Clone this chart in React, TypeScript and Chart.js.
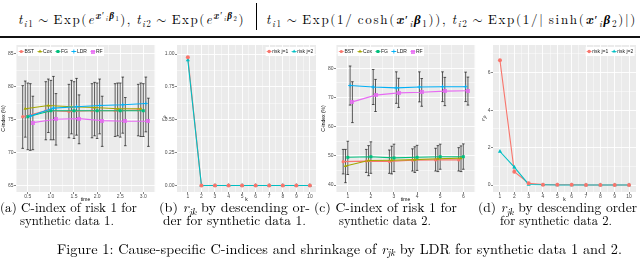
import React, { useEffect, useLayoutEffect, useRef } from 'react';
import { Chart, registerables } from 'chart.js';
import { drawPoint } from 'chart.js/helpers';

Chart.register(...registerables);

const SANS = '"Liberation Sans", Arial, Helvetica, sans-serif';
const SERIF = '"Latin Modern Roman", "Liberation Serif", "Times New Roman", serif';

// ---------- shared ----------
const METHODS = ['BST', 'Cox', 'FG', 'LDR', 'RF'];
const METHOD_COLORS = ['#F8766D', '#A3A500', '#00BF7D', '#00B0F6', '#E76BF3'];

// ---------- panel (a): synthetic data 1 ----------
const A_TIMES = [0.5, 1, 1.5, 2, 2.5, 3];
const A_BST = [75.5, 76.4, 76.3, 76.4, 76.4, 76.5];
const A_BST_LO = [70.7, 72.0, 72.3, 72.3, 72.5, 72.6];
const A_BST_HI = [80.2, 80.8, 80.4, 80.5, 80.5, 80.4];
const A_COX = [76.7, 77.2, 77.0, 76.9, 76.7, 76.7];
const A_COX_LO = [72.4, 73.1, 72.9, 72.6, 72.6, 72.5];
const A_COX_HI = [80.9, 81.2, 81.0, 80.7, 80.6, 80.6];
const A_FG = [75.5, 76.4, 76.4, 76.4, 76.4, 76.4];
const A_FG_LO = [70.5, 72.0, 72.2, 72.2, 72.4, 72.5];
const A_FG_HI = [80.6, 81.0, 80.8, 80.6, 80.6, 80.5];
const A_LDR = [75.6, 76.8, 77.0, 77.2, 77.3, 77.5];
const A_LDR_LO = [70.4, 72.0, 72.7, 72.9, 73.0, 73.2];
const A_LDR_HI = [80.5, 81.6, 81.3, 81.2, 81.5, 81.5];
const A_RF = [74.6, 75.1, 75.2, 74.9, 74.8, 74.8];
const A_RF_LO = [70.5, 71.2, 71.4, 71.0, 71.1, 71.0];
const A_RF_HI = [78.6, 79.0, 78.8, 78.6, 78.4, 78.3];
const A_X_TICKS = [0.5, 1, 1.5, 2, 2.5, 3];
const A_X_MINOR = [0.25, 0.75, 1.25, 1.75, 2.25, 2.75, 3.25];
const A_Y_TICKS = [65, 70, 75, 80, 85];
const A_Y_MINOR = [62.5, 67.5, 72.5, 77.5, 82.5, 87.5];

// ---------- panel (c): synthetic data 2 ----------
const C_TIMES = [1, 2, 3, 4, 5, 6];
const C_BST = [48.0, 48.2, 48.1, 48.5, 48.6, 48.6];
const C_BST_LO = [43.8, 44.3, 44.0, 44.8, 44.8, 44.8];
const C_BST_HI = [52.2, 52.2, 52.0, 52.4, 52.6, 52.8];
const C_COX = [46.5, 48.4, 48.5, 48.7, 49.0, 49.2];
const C_COX_LO = [40.8, 43.2, 43.8, 44.3, 44.6, 44.6];
const C_COX_HI = [52.2, 53.5, 53.3, 53.1, 53.5, 53.4];
const C_FG = [49.5, 49.7, 49.3, 49.5, 49.7, 49.7];
const C_FG_LO = [43.6, 44.0, 44.6, 45.0, 45.4, 45.4];
const C_FG_HI = [55.0, 54.8, 54.0, 53.6, 54.0, 54.1];
const C_LDR = [74.1, 73.6, 73.3, 73.6, 73.7, 73.7];
const C_LDR_LO = [67.4, 67.6, 68.0, 68.5, 68.6, 68.6];
const C_LDR_HI = [80.8, 79.6, 78.8, 78.8, 78.8, 78.7];
const C_RF = [68.5, 70.8, 71.6, 71.8, 72.2, 72.3];
const C_RF_LO = [61.4, 65.2, 66.6, 67.0, 67.2, 67.4];
const C_RF_HI = [75.4, 76.2, 76.6, 76.5, 76.9, 77.0];
const C_X_TICKS = [1, 2, 3, 4, 5, 6];
const C_X_MINOR = [0.5, 1.5, 2.5, 3.5, 4.5, 5.5, 6.5];
const C_Y_TICKS = [40, 50, 60, 70, 80];
const C_Y_MINOR = [35, 45, 55, 65, 75, 85];

// ---------- panels (b), (d): r_jk by descending order ----------
const K_VALUES = [1, 2, 3, 4, 5, 6, 7, 8, 9, 10];
const K_MINOR = [0.5, 1.5, 2.5, 3.5, 4.5, 5.5, 6.5, 7.5, 8.5, 9.5, 10.5];
const RISK_LABELS = ['risk j=1', 'risk j=2'];
const RISK_COLORS = ['#F8766D', '#00BFC4'];
const B_J1 = [0.975, 0, 0, 0, 0, 0, 0, 0, 0, 0];
const B_J2 = [0.954, 0, 0, 0, 0, 0, 0, 0, 0, 0];
const B_Y_TICKS = [0, 0.25, 0.5, 0.75, 1];
const B_Y_MINOR = [-0.125, 0.125, 0.375, 0.625, 0.875, 1.125];
const D_J1 = [6.66, 0.71, 0.09, 0.02, 0.01, 0.01, 0, 0, 0, 0];
const D_J2 = [1.79, 0.95, 0.03, 0.01, 0, 0, 0, 0, 0, 0];
const D_Y_TICKS = [0, 2, 4, 6];
const D_Y_MINOR = [-1, 1, 3, 5, 7];

// ---------- helpers ----------
function boxX(color: string) {
  const c = document.createElement('canvas');
  c.width = 4;
  c.height = 4;
  const g = c.getContext('2d')!;
  g.strokeStyle = color;
  g.lineWidth = 0.8;
  g.strokeRect(0.5, 0.5, 3, 3);
  g.beginPath();
  g.moveTo(0.5, 0.5);
  g.lineTo(3.5, 3.5);
  g.moveTo(3.5, 0.5);
  g.lineTo(0.5, 3.5);
  g.stroke();
  return c;
}

const panelBg = {
  id: 'panelBg',
  beforeDraw(chart: any) {
    const { ctx, chartArea: a } = chart;
    ctx.save();
    ctx.fillStyle = '#EBEBEB';
    ctx.fillRect(a.left, a.top, a.right - a.left, a.bottom - a.top);
    ctx.restore();
  },
};

function makeErrorBars(bars: { x: number; lo: number; hi: number }[]) {
  return {
    id: 'errBars',
    beforeDatasetsDraw(chart: any) {
      const { ctx, chartArea: a } = chart;
      const xs = chart.scales.x;
      const ys = chart.scales.y;
      ctx.save();
      ctx.beginPath();
      ctx.rect(a.left, a.top, a.right - a.left, a.bottom - a.top);
      ctx.clip();
      ctx.strokeStyle = 'rgba(20,20,20,0.9)';
      ctx.lineWidth = 0.75;
      const cap = 1.3;
      for (const b of bars) {
        const px = xs.getPixelForValue(b.x);
        const p1 = ys.getPixelForValue(b.lo);
        const p2 = ys.getPixelForValue(b.hi);
        ctx.beginPath();
        ctx.moveTo(px, p1);
        ctx.lineTo(px, p2);
        ctx.moveTo(px - cap, p1);
        ctx.lineTo(px + cap, p1);
        ctx.moveTo(px - cap, p2);
        ctx.lineTo(px + cap, p2);
        ctx.stroke();
      }
      ctx.restore();
    },
  };
}

type LegItem = { label: string; color: string; style: any; radius: number; border: number };

function makeLegend(items: LegItem[], side: 'left' | 'right') {
  return {
    id: 'ggLegend',
    afterDatasetsDraw(chart: any) {
      const { ctx, chartArea: a } = chart;
      ctx.save();
      ctx.font = `5px ${SANS}`;
      const KEY = 5, GAP_T = 0.6, GAP_I = 3.4, PAD_L = 1, PAD_R = 1.4, H = 9;
      const widths = items.map((it) => ctx.measureText(it.label).width);
      let total = PAD_L + PAD_R;
      items.forEach((_, k) => {
        total += KEY + GAP_T + widths[k] + (k < items.length - 1 ? GAP_I : 0);
      });
      const x0 = side === 'left' ? a.left + 1.8 : a.right - 1.4 - total;
      const y0 = a.top + 2;
      ctx.fillStyle = '#FFFFFF';
      ctx.fillRect(x0, y0, total, H);
      let x = x0 + PAD_L;
      const cy = y0 + H / 2;
      items.forEach((it, k) => {
        ctx.strokeStyle = it.color;
        ctx.lineWidth = 0.8;
        ctx.beginPath();
        ctx.moveTo(x, cy);
        ctx.lineTo(x + KEY, cy);
        ctx.stroke();
        ctx.fillStyle = it.color;
        ctx.lineWidth = it.border;
        drawPoint(ctx, { pointStyle: it.style, radius: it.radius, borderWidth: it.border, rotation: 0 } as any, x + KEY / 2, cy);
        x += KEY + GAP_T;
        ctx.fillStyle = '#1A1A1A';
        ctx.textBaseline = 'middle';
        ctx.textAlign = 'left';
        ctx.fillText(it.label, x, cy + 0.3);
        x += widths[k] + GAP_I;
      });
      ctx.restore();
    },
  };
}

function makeRjkTitle(x: number) {
  return {
    id: 'rjkTitle',
    afterDraw(chart: any) {
      const { ctx, chartArea: a } = chart;
      ctx.save();
      ctx.translate(x, (a.top + a.bottom) / 2);
      ctx.rotate(-Math.PI / 2);
      ctx.fillStyle = '#000';
      ctx.textBaseline = 'middle';
      ctx.textAlign = 'left';
      ctx.font = `italic 5.5px ${SERIF}`;
      const w1 = ctx.measureText('r').width;
      ctx.font = `italic 4px ${SERIF}`;
      const w2 = ctx.measureText('jk').width;
      const start = -(w1 + w2) / 2;
      ctx.font = `italic 5.5px ${SERIF}`;
      ctx.fillText('r', start, 0);
      ctx.font = `italic 4px ${SERIF}`;
      ctx.fillText('jk', start + w1 + 0.2, 1.3);
      ctx.restore();
    },
  };
}

function axis(o: {
  horizontal: boolean; min: number; max: number; major: number[]; minor: number[];
  fmt: (v: number) => string; title: string | null; size: number;
}) {
  const isMajor = (v: any) => typeof v === 'number' && o.major.some((m) => Math.abs(m - v) < 1e-9);
  const all = [...o.major, ...o.minor].filter((v) => v >= o.min && v <= o.max).sort((p, q) => p - q);
  return {
    type: 'linear',
    min: o.min,
    max: o.max,
    afterBuildTicks: (s: any) => {
      s.ticks = all.map((v) => ({ value: v }));
    },
    afterFit: (s: any) => {
      if (o.horizontal) s.height = o.size;
      else s.width = o.size;
    },
    border: { display: false },
    grid: {
      color: '#FFFFFF',
      lineWidth: (c: any) => (isMajor(c.tick && c.tick.value) ? 0.9 : 0.45),
      tickColor: (c: any) => (isMajor(c.tick && c.tick.value) ? '#333333' : 'rgba(0,0,0,0)'),
      tickLength: 2,
      tickWidth: 0.6,
      drawTicks: true,
    },
    ticks: {
      autoSkip: false,
      maxRotation: 0,
      minRotation: 0,
      padding: o.horizontal ? 0 : 0.5,
      color: '#4D4D4D',
      font: { family: SANS, size: 5, lineHeight: 1 },
      callback: (v: any) => (isMajor(v) ? o.fmt(v) : ''),
    },
    title: {
      display: !!o.title,
      text: o.title || '',
      color: '#000000',
      font: { family: SANS, size: 5, lineHeight: 1 },
      padding: { top: 1.5, bottom: 0.5 },
    },
  };
}

function baseOptions(padRight: number, scales: any) {
  return {
    responsive: false,
    animation: false,
    devicePixelRatio: 1,
    events: [],
    layout: { padding: { top: 5, right: padRight, left: 0, bottom: 0 } },
    plugins: { legend: { display: false }, tooltip: { enabled: false } },
    elements: { line: { tension: 0 } },
    scales,
  };
}

function buildCIndex(p: {
  times: number[]; means: number[][]; los: number[][]; his: number[][]; dodge: number;
  xMin: number; xMax: number; yMin: number; yMax: number;
  xMajor: number[]; xMinor: number[]; yMajor: number[]; yMinor: number[];
  xFmt: (v: number) => string; yWidth: number; padRight: number;
}) {
  const styles: any[] = ['circle', 'triangle', 'rect', 'cross', boxX(METHOD_COLORS[4])];
  const radii = [1.6, 2.0, 2.1, 2.0, 2];
  const borders = [0, 0, 0, 0.9, 0];
  const bars: { x: number; lo: number; hi: number }[] = [];
  const datasets = METHODS.map((m, i) => {
    const off = (i - 2) * p.dodge;
    p.times.forEach((t, j) => bars.push({ x: t + off, lo: p.los[i][j], hi: p.his[i][j] }));
    return {
      label: m,
      data: p.times.map((t, j) => ({ x: t + off, y: p.means[i][j] })),
      borderColor: METHOD_COLORS[i],
      backgroundColor: METHOD_COLORS[i],
      borderWidth: 1.1,
      pointStyle: styles[i],
      pointRadius: radii[i],
      pointBorderWidth: borders[i],
      pointBackgroundColor: METHOD_COLORS[i],
      pointBorderColor: METHOD_COLORS[i],
      order: METHODS.length - 1 - i,
    };
  });
  const legendItems: LegItem[] = METHODS.map((m, i) => ({
    label: m, color: METHOD_COLORS[i], style: styles[i], radius: radii[i], border: borders[i],
  }));
  return {
    type: 'line',
    data: { datasets },
    options: baseOptions(p.padRight, {
      x: axis({ horizontal: true, min: p.xMin, max: p.xMax, major: p.xMajor, minor: p.xMinor, fmt: p.xFmt, title: 'time', size: 11 }),
      y: axis({ horizontal: false, min: p.yMin, max: p.yMax, major: p.yMajor, minor: p.yMinor, fmt: (v) => String(v), title: 'C-index (%)', size: p.yWidth }),
    }),
    plugins: [panelBg, makeErrorBars(bars), makeLegend(legendItems, 'left')],
  };
}

function buildRjk(p: {
  j1: number[]; j2: number[]; yMin: number; yMax: number; yMajor: number[]; yMinor: number[];
  yFmt: (v: number) => string; xMin: number; xMax: number; yWidth: number; padRight: number; titleX: number;
}) {
  const pts = (v: number[]) => K_VALUES.map((k, i) => ({ x: k, y: v[i] }));
  const datasets = [
    { label: 'line1', data: pts(p.j1), borderColor: RISK_COLORS[0], borderWidth: 1.1, pointRadius: 0, order: 3 },
    { label: 'line2', data: pts(p.j2), borderColor: RISK_COLORS[1], borderWidth: 1.1, pointRadius: 0, order: 2 },
    {
      label: RISK_LABELS[1], data: pts(p.j2), showLine: false, pointStyle: 'triangle', pointRadius: 2.4,
      pointBackgroundColor: RISK_COLORS[1], pointBorderColor: RISK_COLORS[1], pointBorderWidth: 0, order: 1,
    },
    {
      label: RISK_LABELS[0], data: pts(p.j1), showLine: false, pointStyle: 'circle', pointRadius: 2.0,
      pointBackgroundColor: RISK_COLORS[0], pointBorderColor: RISK_COLORS[0], pointBorderWidth: 0, order: 0,
    },
  ];
  const legendItems: LegItem[] = [
    { label: RISK_LABELS[0], color: RISK_COLORS[0], style: 'circle', radius: 1.7, border: 0 },
    { label: RISK_LABELS[1], color: RISK_COLORS[1], style: 'triangle', radius: 2.0, border: 0 },
  ];
  return {
    type: 'line',
    data: { datasets },
    options: baseOptions(p.padRight, {
      x: axis({ horizontal: true, min: p.xMin, max: p.xMax, major: K_VALUES, minor: K_MINOR, fmt: (v) => String(v), title: 'k', size: 11 }),
      y: axis({ horizontal: false, min: p.yMin, max: p.yMax, major: p.yMajor, minor: p.yMinor, fmt: p.yFmt, title: null, size: p.yWidth }),
    }),
    plugins: [panelBg, makeLegend(legendItems, 'right'), makeRjkTitle(p.titleX)],
  };
}

const buildA = () =>
  buildCIndex({
    times: A_TIMES,
    means: [A_BST, A_COX, A_FG, A_LDR, A_RF],
    los: [A_BST_LO, A_COX_LO, A_FG_LO, A_LDR_LO, A_RF_LO],
    his: [A_BST_HI, A_COX_HI, A_FG_HI, A_LDR_HI, A_RF_HI],
    dodge: 0.055,
    xMin: 0.245, xMax: 3.255, yMin: 64.09, yMax: 86.36,
    xMajor: A_X_TICKS, xMinor: A_X_MINOR, yMajor: A_Y_TICKS, yMinor: A_Y_MINOR,
    xFmt: (v) => v.toFixed(1), yWidth: 16, padRight: 3,
  });

const buildC = () =>
  buildCIndex({
    times: C_TIMES,
    means: [C_BST, C_COX, C_FG, C_LDR, C_RF],
    los: [C_BST_LO, C_COX_LO, C_FG_LO, C_LDR_LO, C_RF_LO],
    his: [C_BST_HI, C_COX_HI, C_FG_HI, C_LDR_HI, C_RF_HI],
    dodge: 0.1,
    xMin: 0.49, xMax: 6.51, yMin: 37.6, yMax: 88,
    xMajor: C_X_TICKS, xMinor: C_X_MINOR, yMajor: C_Y_TICKS, yMinor: C_Y_MINOR,
    xFmt: (v) => String(v), yWidth: 16, padRight: 3,
  });

const buildB = () =>
  buildRjk({
    j1: B_J1, j2: B_J2, yMin: -0.05, yMax: 1.069, yMajor: B_Y_TICKS, yMinor: B_Y_MINOR,
    yFmt: (v) => v.toFixed(2), xMin: 0.2, xMax: 10.45, yWidth: 17, padRight: 2, titleX: 3.5,
  });

const buildD = () =>
  buildRjk({
    j1: D_J1, j2: D_J2, yMin: -0.374, yMax: 7.48, yMajor: D_Y_TICKS, yMinor: D_Y_MINOR,
    yFmt: (v) => String(v), xMin: 0.515, xMax: 10.485, yWidth: 13, padRight: 3, titleX: 3.3,
  });

function ChartCanvas({ left, top, width, height, build }: any) {
  const ref = useRef<HTMLCanvasElement>(null);
  useEffect(() => {
    const chart = new Chart(ref.current as HTMLCanvasElement, build() as any);
    return () => chart.destroy();
  }, []);
  return (
    <canvas
      ref={ref}
      width={width}
      height={height}
      style={{ position: 'absolute', left, top, width, height }}
    />
  );
}

// ---------- text helpers ----------
const Sub = ({ children }: any) => (
  <span style={{ fontSize: '0.7em', position: 'relative', top: '0.28em', lineHeight: 0 }}>{children}</span>
);
const Sup = ({ children }: any) => (
  <span style={{ fontSize: '0.72em', position: 'relative', top: '-0.5em', lineHeight: 0 }}>{children}</span>
);
const Rel = ({ children }: any) => (
  <span style={{ margin: '0 0.3em', fontFamily: '"Latin Modern Math", "Latin Modern Roman", serif', fontWeight: 400 }}>
    {children}
  </span>
);
const BX = () => <i style={{ fontWeight: 700 }}>x</i>;
const BB = () => <i style={{ fontWeight: 700 }}>β</i>;
const Xb = ({ n }: { n: string }) => (
  <>
    <BX />′<Sub><i>i</i></Sub>
    <BB />
    <Sub>{n}</Sub>
  </>
);
const Rjk = () => (
  <>
    <i>r</i>
    <Sub>
      <i>jk</i>
    </Sub>
  </>
);

function FitText({ left, width, cy, size, spread, children }: any) {
  const ref = useRef<HTMLDivElement>(null);
  useLayoutEffect(() => {
    const el = ref.current;
    if (!el) return;
    el.style.transform = 'none';
    el.style.letterSpacing = '0px';
    let w = el.getBoundingClientRect().width;
    if (spread) {
      const n = Math.max(1, (el.textContent || '').length);
      let ls = 0;
      for (let it = 0; it < 3 && w > 0; it++) {
        ls += (width - w) / n;
        el.style.letterSpacing = `${ls}px`;
        w = el.getBoundingClientRect().width;
      }
      return;
    }
    if (w > 0) el.style.transform = `scaleX(${width / w})`;
  }, []);
  const lh = Math.round(size * 1.2);
  return (
    <div
      ref={ref}
      style={{
        position: 'absolute',
        left,
        top: cy - lh / 2,
        fontSize: size,
        lineHeight: `${lh}px`,
        whiteSpace: 'nowrap',
        transformOrigin: '0 50%',
        fontFamily: SERIF,
        fontWeight: 400,
        color: '#000',
      }}
    >
      {children}
    </div>
  );
}

export default function App() {
  return (
    <div
      style={{
        position: 'fixed',
        left: 0,
        top: 0,
        width: 640,
        height: 259,
        background: '#FFFFFF',
        overflow: 'hidden',
        fontFamily: SERIF,
      }}
    >
      {/* header formulas */}
      <FitText left={18} width={227} cy={19} size={13} spread>
        <i>t</i>
        <Sub>
          <i>i</i>1
        </Sub>
        <Rel>∼</Rel>Exp(<i>e</i>
        <Sup>
          <Xb n="1" />
        </Sup>
        ),&thinsp;<i>t</i>
        <Sub>
          <i>i</i>2
        </Sub>
        <Rel>∼</Rel>Exp(<i>e</i>
        <Sup>
          <Xb n="2" />
        </Sup>
        )
      </FitText>
      <div style={{ position: 'absolute', left: 256, top: 3, width: 1, height: 27, background: '#000' }} />
      <FitText left={266} width={371} cy={19} size={13} spread>
        <i>t</i>
        <Sub>
          <i>i</i>1
        </Sub>
        <Rel>∼</Rel>Exp(1/&thinsp;cosh(
        <Xb n="1" />
        )),&thinsp;<i>t</i>
        <Sub>
          <i>i</i>2
        </Sub>
        <Rel>∼</Rel>Exp(1/|&thinsp;sinh(
        <Xb n="2" />
        )|)
      </FitText>
      <div style={{ position: 'absolute', left: 0, top: 36, width: 640, height: 2, background: '#111' }} />

      {/* charts */}
      <ChartCanvas left={0} top={40} width={160} height={163} build={buildA} />
      <ChartCanvas left={160} top={40} width={160} height={163} build={buildB} />
      <ChartCanvas left={320} top={40} width={160} height={163} build={buildC} />
      <ChartCanvas left={480} top={40} width={160} height={163} build={buildD} />

      {/* sub captions */}
      <FitText left={0} width={137} cy={207} size={13}>
        (a) C-index of risk 1 for
      </FitText>
      <FitText left={20} width={94} cy={220} size={13}>
        synthetic data 1.
      </FitText>
      <FitText left={159} width={151} cy={207} size={13}>
        (b) <Rjk /> by descending or-
      </FitText>
      <FitText left={163} width={143} cy={220} size={13}>
        der for synthetic data 1.
      </FitText>
      <FitText left={314} width={143} cy={207} size={13}>
        (c) C-index of risk 1 for
      </FitText>
      <FitText left={339} width={92} cy={220} size={13}>
        synthetic data 2.
      </FitText>
      <FitText left={478} width={159} cy={207} size={13}>
        (d) <Rjk /> by descending order
      </FitText>
      <FitText left={500} width={112} cy={220} size={13}>
        for synthetic data 2.
      </FitText>
      <FitText left={57} width={565} cy={248} size={14}>
        Figure 1: Cause-specific C-indices and shrinkage of <Rjk /> by LDR for synthetic data 1 and 2.
      </FitText>
    </div>
  );
}
